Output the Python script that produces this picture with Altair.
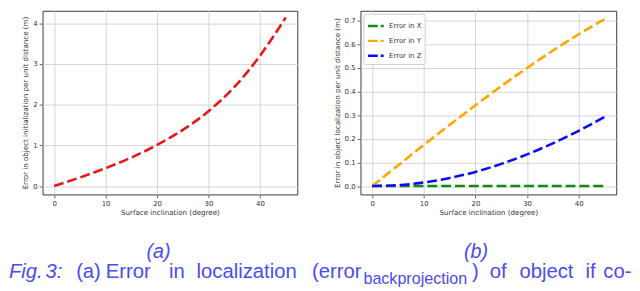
import altair as alt
import pandas as pd

# ---- data ----
angles = [0, 5, 10, 15, 20, 25, 30, 35, 40, 45]
err_init = [0.0, 0.21, 0.44, 0.70, 1.01, 1.38, 1.84, 2.43, 3.20, 4.14]
err_x = [0.0, 0.0, 0.0, 0.0, 0.0, 0.0, 0.0, 0.0, 0.0, 0.0]
err_y = [0.0, 0.087, 0.174, 0.259, 0.342, 0.423, 0.500, 0.574, 0.643, 0.707]
err_z = [0.0, 0.004, 0.015, 0.034, 0.060, 0.094, 0.134, 0.181, 0.234, 0.293]
series_names = ["Error in X", "Error in Y", "Error in Z"]
series_colors = ["#108a10", "#ffa500", "#0a0aff"]
x_ticks = [0, 10, 20, 30, 40]
left_y_ticks = [0, 1, 2, 3, 4]
right_y_ticks = [0.0, 0.1, 0.2, 0.3, 0.4, 0.5, 0.6, 0.7]

x_title = "Surface inclination (degree)"
left_y_title = "Error in object initialization per unit distance (m)"
right_y_title = "Error in object localization per unit distance (m)"

caption_words = ["Fig.", "3:", "(a)", "Error", "in", "localization", "(error",
                 "backprojection", ")", "of", "object", "if", "co-"]
caption_x = [-34, 3, 34, 64, 128, 156, 273, 325, 435, 453, 483, 550, 568]
sub_labels = ["(a)", "(b)"]
sub_x = [117.5, 439]

W_L, W_R, H = 258, 259, 186
GAP = 64
CAP_COLOR = "#4b4bf2"

df_left = pd.DataFrame({"angle": angles, "err": err_init})
rows = []
for name, vals in zip(series_names, [err_x, err_y, err_z]):
    for a, v in zip(angles, vals):
        rows.append({"angle": a, "err": v, "series": name})
df_right = pd.DataFrame(rows)

x_scale = alt.Scale(domain=[-2.25, 47.25], nice=False, zero=False)

left_line = alt.Chart(df_left).mark_line(
    color="#e81818", strokeWidth=2.6, strokeDash=[10, 4], interpolate="monotone"
).encode(
    x=alt.X("angle:Q", scale=x_scale,
            axis=alt.Axis(values=x_ticks, title=x_title, format="d",
                          labelPadding=1.5, titlePadding=2)),
    y=alt.Y("err:Q", scale=alt.Scale(domain=[-0.205, 4.305], nice=False, zero=False),
            axis=alt.Axis(values=left_y_ticks, title=left_y_title, format="d",
                          labelPadding=2, titlePadding=3)),
)


def word_mark(word, xpos, ypos, size, italic, align):
    d = pd.DataFrame({"w": [word]})
    return alt.Chart(d).mark_text(
        font="Liberation Sans", fontSize=size, color=CAP_COLOR,
        align=align, baseline="alphabetic",
        fontStyle="italic" if italic else "normal"
    ).encode(x=alt.value(xpos), y=alt.value(ypos), text="w:N")


texts = []
for w, xx in zip(caption_words, caption_x):
    if w == "backprojection":
        texts.append(word_mark(w, xx, 277, 16.3, False, "left"))
    else:
        texts.append(word_mark(w, xx, 271, 20.5, w in ("Fig.", "3:"), "left"))
for w, xx in zip(sub_labels, sub_x):
    texts.append(word_mark(w, xx, 250, 20, True, "center"))

left = alt.layer(left_line, *texts).properties(width=W_L, height=H)

right = alt.Chart(df_right).mark_line(
    strokeWidth=2.6, strokeDash=[10, 4], interpolate="monotone"
).encode(
    x=alt.X("angle:Q", scale=x_scale,
            axis=alt.Axis(values=x_ticks, title=x_title, format="d",
                          labelPadding=1.5, titlePadding=2)),
    y=alt.Y("err:Q", scale=alt.Scale(domain=[-0.0354, 0.7425], nice=False, zero=False),
            axis=alt.Axis(values=right_y_ticks, title=right_y_title, format=".1f",
                          labelPadding=2, titlePadding=3)),
    color=alt.Color("series:N",
                    scale=alt.Scale(domain=series_names, range=series_colors),
                    legend=alt.Legend(orient="none", legendX=W_L + GAP + 3, legendY=3,
                                      title=None,
                                      symbolType="stroke", symbolStrokeWidth=2.5,
                                      symbolDash=[10, 3], symbolSize=256,
                                      labelFont="DejaVu Sans", labelFontSize=7,
                                      labelColor="#333", padding=3, rowPadding=-8,
                                      fillColor="white", strokeColor="#cccccc",
                                      cornerRadius=2, labelOffset=4)),
).properties(width=W_R, height=H)

chart = alt.hconcat(left, right, spacing=GAP, bounds="flush").properties(
    padding={"left": 0, "top": 0, "right": 0, "bottom": 0}
).configure_view(
    stroke="#3a3a3a", strokeWidth=1
).configure_axis(
    labelFont="DejaVu Sans", labelFontSize=7, labelColor="#333",
    titleFont="DejaVu Sans", titleFontSize=7.2, titleFontWeight="normal",
    titleColor="#333", tickColor="#444", tickSize=3.5, tickWidth=0.8,
    gridColor="#d4d4d4", gridWidth=1, domain=False
)

chart.save("out.html", embed_options={"renderer": "svg", "actions": False})
